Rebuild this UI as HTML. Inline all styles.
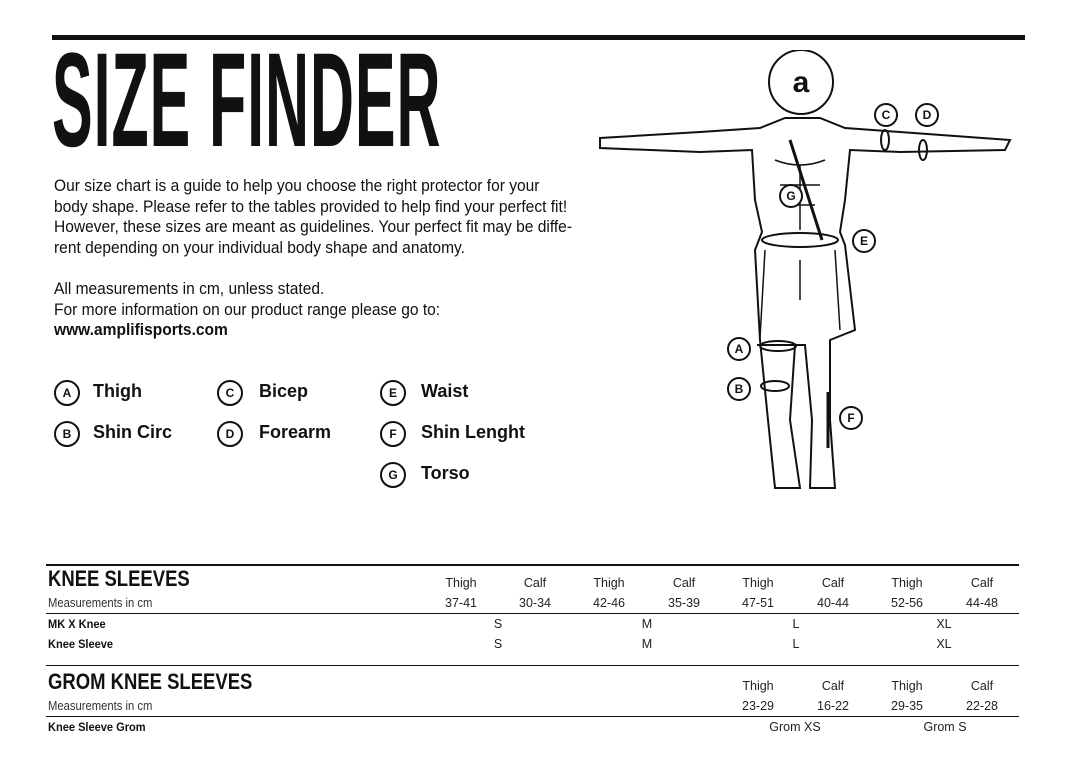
<!DOCTYPE html>
<html><head><meta charset="utf-8"><style>
body{margin:0;width:1083px;height:782px;background:#fff;position:relative;overflow:hidden;font-family:"Liberation Sans",sans-serif;color:#111}
.a{position:absolute;white-space:nowrap}
.title{left:52px;top:34px;font-weight:900;font-size:134px;letter-spacing:2px;transform:scaleX(0.455);transform-origin:0 0;line-height:1}
.p{left:54px;font-size:16.2px;line-height:20.7px;transform:scaleX(0.96);transform-origin:0 0}
.c{position:absolute;width:22px;height:22px;border:2px solid #111;border-radius:50%;font-size:12px;font-weight:bold;text-align:center;line-height:22px}
.l{position:absolute;font-size:18px;font-weight:bold}
.hr{position:absolute;left:46px;width:973px;background:#111}
.s{position:absolute;font-size:12.5px;text-align:center;width:50px;line-height:20px;color:#222}
.b{position:absolute;font-size:12px;font-weight:bold;left:48px;transform:scaleX(0.92);transform-origin:0 0}
.h{position:absolute;left:48px;font-size:22px;font-weight:bold;transform:scaleX(0.84);transform-origin:0 0;white-space:nowrap}
.m{position:absolute;left:48px;font-size:12.5px;color:#333;transform:scaleX(0.9);transform-origin:0 0}
</style></head><body>
<div class="a" style="left:52px;top:35px;width:973px;height:5px;background:#111"></div>
<div class="a title">SIZE FINDER</div>
<div class="a p" style="top:176px">Our size chart is a guide to help you choose the right protector for your<br>body shape. Please refer to the tables provided to help find your perfect fit!<br>However, these sizes are meant as guidelines. Your perfect fit may be diffe-<br>rent depending on your individual body shape and anatomy.</div>
<div class="a p" style="top:279px">All measurements in cm, unless stated.<br>For more information on our product range please go to:<br><b>www.amplifisports.com</b></div>

<div class="c" style="left:54px;top:380px">A</div><div class="l" style="left:93px;top:381px">Thigh</div>
<div class="c" style="left:54px;top:421px">B</div><div class="l" style="left:93px;top:422px">Shin Circ</div>
<div class="c" style="left:217px;top:380px">C</div><div class="l" style="left:259px;top:381px">Bicep</div>
<div class="c" style="left:217px;top:421px">D</div><div class="l" style="left:259px;top:422px">Forearm</div>
<div class="c" style="left:380px;top:380px">E</div><div class="l" style="left:421px;top:381px">Waist</div>
<div class="c" style="left:380px;top:421px">F</div><div class="l" style="left:421px;top:422px">Shin Lenght</div>
<div class="c" style="left:380px;top:462px">G</div><div class="l" style="left:421px;top:463px">Torso</div>

<svg class="a" style="left:590px;top:50px" width="430" height="450" viewBox="590 50 430 450" fill="none" stroke="#111" stroke-width="2">
<circle cx="801" cy="82" r="32"/>
<text x="801" y="92" font-size="30" font-weight="bold" text-anchor="middle" fill="#111" stroke="none" font-family="Liberation Sans">a</text>
<path d="M600 138 L700 132 L760 128 L785 118 L820 118 L845 128 L900 132 L1010 140 L1005 150 L900 152 L850 150 L845 200 L840 232 L845 245 L855 330 L830 340 L830 420 L835 488 L810 488 L812 420 L805 345 L795 345 L790 420 L800 488 L775 488 L768 420 L760 340 L755 250 L762 232 L755 200 L752 150 L700 152 L600 148 Z"/>
<path d="M775 160 Q800 170 825 160 M780 185 L820 185 M785 205 L815 205 M800 165 L800 230 M765 250 L760 338 M835 250 L840 330 M800 260 L800 300" stroke-width="1.5"/>
<ellipse cx="800" cy="240" rx="38" ry="7"/>
<path d="M757 345 L797 345"/>
<path d="M790 140 L822 240" stroke-width="3"/>
<ellipse cx="885" cy="140" rx="4" ry="10"/><ellipse cx="923" cy="150" rx="4" ry="10"/>
<path d="M828 392 L828 448" stroke-width="3"/>
<ellipse cx="778" cy="346" rx="18" ry="5"/><ellipse cx="775" cy="386" rx="14" ry="5"/>
<g stroke-width="2" fill="#fff">
<circle cx="791" cy="196" r="11"/><circle cx="886" cy="115" r="11"/><circle cx="927" cy="115" r="11"/>
<circle cx="864" cy="241" r="11"/><circle cx="739" cy="349" r="11"/><circle cx="739" cy="389" r="11"/><circle cx="851" cy="418" r="11"/></g>
<g fill="#111" stroke="none" font-size="12" font-weight="bold" text-anchor="middle" font-family="Liberation Sans">
<text x="791" y="200">G</text><text x="886" y="119">C</text><text x="927" y="119">D</text><text x="864" y="245">E</text><text x="739" y="353">A</text><text x="739" y="393">B</text><text x="851" y="422">F</text></g>
</svg>

<div class="hr" style="top:564px;height:2px"></div>
<div class="h" style="top:566px">KNEE SLEEVES</div>
<div class="m" style="top:596px">Measurements in cm</div>
<div class="hr" style="top:613px;height:1px"></div>
<div class="b" style="top:617px">MK X Knee</div>
<div class="b" style="top:637px">Knee Sleeve</div>
<div class="hr" style="top:665px;height:1px"></div>
<div class="h" style="top:669px">GROM KNEE SLEEVES</div>
<div class="m" style="top:699px">Measurements in cm</div>
<div class="hr" style="top:716px;height:1px"></div>
<div class="b" style="top:720px">Knee Sleeve Grom</div>

<div class="s" style="left:436px;top:573px">Thigh<br>37-41</div>
<div class="s" style="left:510px;top:573px">Calf<br>30-34</div>
<div class="s" style="left:584px;top:573px">Thigh<br>42-46</div>
<div class="s" style="left:659px;top:573px">Calf<br>35-39</div>
<div class="s" style="left:733px;top:573px">Thigh<br>47-51</div>
<div class="s" style="left:808px;top:573px">Calf<br>40-44</div>
<div class="s" style="left:882px;top:573px">Thigh<br>52-56</div>
<div class="s" style="left:957px;top:573px">Calf<br>44-48</div>
<div class="s" style="left:473px;top:614px">S</div><div class="s" style="left:473px;top:634px">S</div>
<div class="s" style="left:622px;top:614px">M</div><div class="s" style="left:622px;top:634px">M</div>
<div class="s" style="left:771px;top:614px">L</div><div class="s" style="left:771px;top:634px">L</div>
<div class="s" style="left:919px;top:614px">XL</div><div class="s" style="left:919px;top:634px">XL</div>
<div class="s" style="left:733px;top:676px">Thigh<br>23-29</div>
<div class="s" style="left:808px;top:676px">Calf<br>16-22</div>
<div class="s" style="left:882px;top:676px">Thigh<br>29-35</div>
<div class="s" style="left:957px;top:676px">Calf<br>22-28</div>
<div class="s" style="left:760px;top:717px;width:70px">Grom XS</div>
<div class="s" style="left:910px;top:717px;width:70px">Grom S</div>
</body></html>
